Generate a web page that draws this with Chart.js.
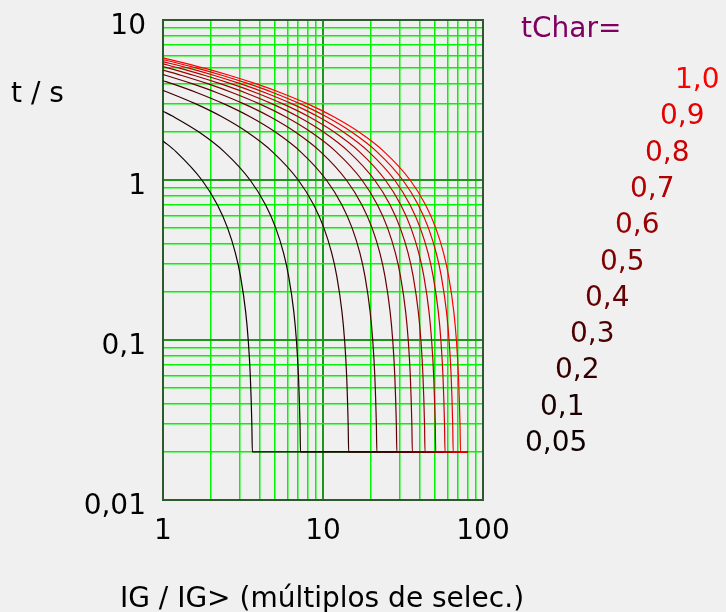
<!DOCTYPE html>
<html><head><meta charset="utf-8">
<script src="https://cdn.jsdelivr.net/npm/chart.js@4/dist/chart.umd.min.js"></script>
<style>html,body{margin:0;padding:0;background:#f0f0f0;overflow:hidden}#wrap{width:726px;height:612px;position:relative}</style>
</head><body><div id="wrap"><canvas id="c" width="726" height="612"></canvas></div>
<script>
// ---- data ----
const tCharValues = [0.05, 0.1, 0.2, 0.3, 0.4, 0.5, 0.6, 0.7, 0.8, 0.9, 1.0];
const tCharLabels = ['0,05', '0,1', '0,2', '0,3', '0,4', '0,5', '0,6', '0,7', '0,8', '0,9', '1,0'];
// time levels (s) at which the x positions of each curve were read
const tLevels = [5.5, 5, 4.5, 4, 3.5, 3, 2.5, 2, 1.5, 1, 0.7, 0.5, 0.35, 0.25, 0.15, 0.1, 0.06, 0.03, 0.02];
// time (s) of each curve at IG/IG> = 1
const tAtOne = [1.756, 2.692, 3.627, 4.175, 4.563, 4.864, 5.110, 5.319, 5.499, 5.658, 5.800];
// x (IG/IG>) of each curve at every time level (null = left of the chart)
const xCurve005 = [null, null, null, null, null, null, null, null, 1.209, 1.750, 2.186, 2.535, 2.833, 3.051, 3.286, 3.409, 3.512, 3.591, 3.618];
const xCurve01  = [null, null, null, null, null, null, 1.152, 1.669, 2.417, 3.501, 4.371, 5.069, 5.666, 6.101, 6.571, 6.818, 7.023, 7.182, 7.235];
const xCurve02  = [null, null, null, null, 1.099, 1.591, 2.305, 3.338, 4.834, 7.002, 8.742, 10.14, 11.33, 12.20, 13.14, 13.64, 14.05, 14.36, 14.47];
const xCurve03  = [null, null, null, 1.138, 1.648, 2.387, 3.457, 5.007, 7.251, 10.50, 13.11, 15.21, 17.00, 18.30, 19.71, 20.45, 21.07, 21.55, 21.71];
const xCurve04  = [null, null, 1.048, 1.517, 2.198, 3.183, 4.610, 6.676, 9.668, 14.00, 17.48, 20.28, 22.66, 24.40, 26.28, 27.27, 28.09, 28.73, 28.94];
const xCurve05  = [null, null, 1.310, 1.897, 2.747, 3.979, 5.762, 8.345, 12.09, 17.51, 21.86, 25.35, 28.33, 30.51, 32.86, 34.09, 35.12, 35.91, 36.18];
const xCurve06  = [null, 1.085, 1.572, 2.276, 3.296, 4.774, 6.914, 10.01, 14.50, 21.01, 26.23, 30.41, 34.00, 36.61, 39.43, 40.91, 42.14, 43.09, 43.41];
const xCurve07  = [null, 1.266, 1.834, 2.656, 3.846, 5.570, 8.067, 11.68, 16.92, 24.51, 30.60, 35.48, 39.66, 42.71, 46.00, 47.73, 49.16, 50.27, 50.65];
const xCurve08  = [null, 1.447, 2.096, 3.035, 4.395, 6.366, 9.219, 13.35, 19.34, 28.01, 34.97, 40.55, 45.33, 48.81, 52.57, 54.54, 56.18, 57.46, 57.88];
const xCurve09  = [1.124, 1.628, 2.357, 3.414, 4.945, 7.161, 10.37, 15.02, 21.75, 31.51, 39.34, 45.62, 50.99, 54.91, 59.14, 61.36, 63.21, 64.64, 65.12];
const xCurve10  = [1.249, 1.809, 2.619, 3.794, 5.494, 7.957, 11.52, 16.69, 24.17, 35.01, 43.71, 50.69, 56.66, 61.01, 65.71, 68.18, 70.23, 71.82, 72.35];
const floorT = 0.02;
const floorEndX = 80;
// grid / tick values
const xGridValues = [1, 2, 3, 4, 5, 6, 7, 8, 9, 10, 20, 30, 40, 50, 60, 70, 80, 90, 100];
const yGridValues = [0.01, 0.02, 0.03, 0.04, 0.05, 0.06, 0.07, 0.08, 0.09, 0.1, 0.2, 0.3, 0.4, 0.5, 0.6, 0.7, 0.8, 0.9, 1, 2, 3, 4, 5, 6, 7, 8, 9, 10];
const xTickValues = [1, 10, 100];
const xTickLabels = ['1', '10', '100'];
const yTickValues = [0.01, 0.1, 1, 10];
const yTickLabels = ['0,01', '0,1', '1', '10'];
const xTitle = 'IG / IG> (múltiplos de selec.)';
const yTitle = 't / s';
const legendTitle = 'tChar=';

// ---- styles ----
const FONT = 'DejaVu Sans';
const seriesColors = tCharValues.map(k => 'rgb(' + Math.round(255 * k) + ',0,0)');
const minorGrid = 'rgb(0,245,0)';
const majorGrid = 'rgb(30,150,30)';
const frameColor = 'rgb(45,90,45)';

const curveXs = [xCurve005, xCurve01, xCurve02, xCurve03, xCurve04, xCurve05, xCurve06, xCurve07, xCurve08, xCurve09, xCurve10];
const datasets = tCharValues.map((k, i) => {
  const pts = [{x: 1, y: tAtOne[i]}];
  curveXs[i].forEach((x, j) => { if (x !== null) pts.push({x: x, y: tLevels[j]}); });
  pts.push({x: floorEndX, y: floorT});
  return {
    label: tCharLabels[i], data: pts, borderColor: seriesColors[i], backgroundColor: seriesColors[i],
    borderWidth: 1.2, pointRadius: 0, pointHoverRadius: 0, showLine: true, fill: false,
    cubicInterpolationMode: 'monotone',
    order: tCharValues.length - 1 - i
  };
});

const isMajor = (v, list) => list.some(m => Math.abs(v / m - 1) < 1e-6);
const labelFor = (v, vals, labs) => { const i = vals.findIndex(m => Math.abs(v / m - 1) < 1e-6); return i >= 0 ? labs[i] : ''; };

const extras = {
  id: 'extras',
  beforeDatasetsDraw(chart) {
    const {ctx, chartArea: a} = chart;
    ctx.save();
    ctx.strokeStyle = frameColor; ctx.lineWidth = 2;
    ctx.strokeRect(a.left, a.top, a.right - a.left, a.bottom - a.top);
    ctx.restore();
  },
  afterDraw(chart) {
    const ctx = chart.ctx;
    const a = chart.chartArea;
    ctx.save();
    ctx.font = '28px "' + FONT + '"';
    ctx.textBaseline = 'alphabetic';
    ctx.textAlign = 'left';
    ctx.fillStyle = '#000';
    ctx.fillText(yTitle, 11, 102);
    ctx.textAlign = 'center';
    ctx.fillText(xTitle, (a.left + a.right) / 2 - 1, 606.5);
    ctx.textAlign = 'left';
    ctx.fillStyle = '#800060';
    ctx.fillText(legendTitle, 521, 37);
    tCharLabels.forEach((lab, i) => {
      ctx.fillStyle = seriesColors[i];
      ctx.fillText(lab, 525 + 15 * i, 451 - 36.3 * i);
    });
    ctx.restore();
  }
};

Chart.defaults.font.family = FONT;
Chart.defaults.font.size = 28;
Chart.defaults.color = '#000';

new Chart(document.getElementById('c'), {
  type: 'scatter',
  data: {datasets: datasets},
  options: {
    responsive: false, animation: false, devicePixelRatio: 1,
    layout: {padding: {left: 0, right: 243, top: 20, bottom: 0}},
    plugins: {legend: {display: false}, tooltip: {enabled: false}},
    events: [],
    scales: {
      x: {
        type: 'logarithmic', min: 1, max: 100,
        afterBuildTicks: s => { s.ticks = xGridValues.map(v => ({value: v})); },
        afterFit: s => { s.height = 112; s.paddingLeft = 0; s.paddingRight = 0; },
        ticks: {autoSkip: false, maxRotation: 0, padding: 15, callback: v => labelFor(v, xTickValues, xTickLabels), font: {size: 28}},
        grid: {drawTicks: false, color: c => isMajor(c.tick.value, xTickValues) ? majorGrid : minorGrid, lineWidth: c => isMajor(c.tick.value, xTickValues) ? 2 : 1.5},
        border: {display: false}
      },
      y: {
        type: 'logarithmic', min: 0.01, max: 10,
        afterBuildTicks: s => { s.ticks = yGridValues.map(v => ({value: v})); },
        afterFit: s => { s.width = 163; s.paddingTop = 0; s.paddingBottom = 0; },
        ticks: {autoSkip: false, padding: 17, labelOffset: 7, callback: v => labelFor(v, yTickValues, yTickLabels), font: {size: 28}},
        grid: {drawTicks: false, color: c => isMajor(c.tick.value, yTickValues) ? majorGrid : minorGrid, lineWidth: c => isMajor(c.tick.value, yTickValues) ? 2 : 1.5},
        border: {display: false}
      }
    }
  },
  plugins: [extras]
});
</script></body></html>
